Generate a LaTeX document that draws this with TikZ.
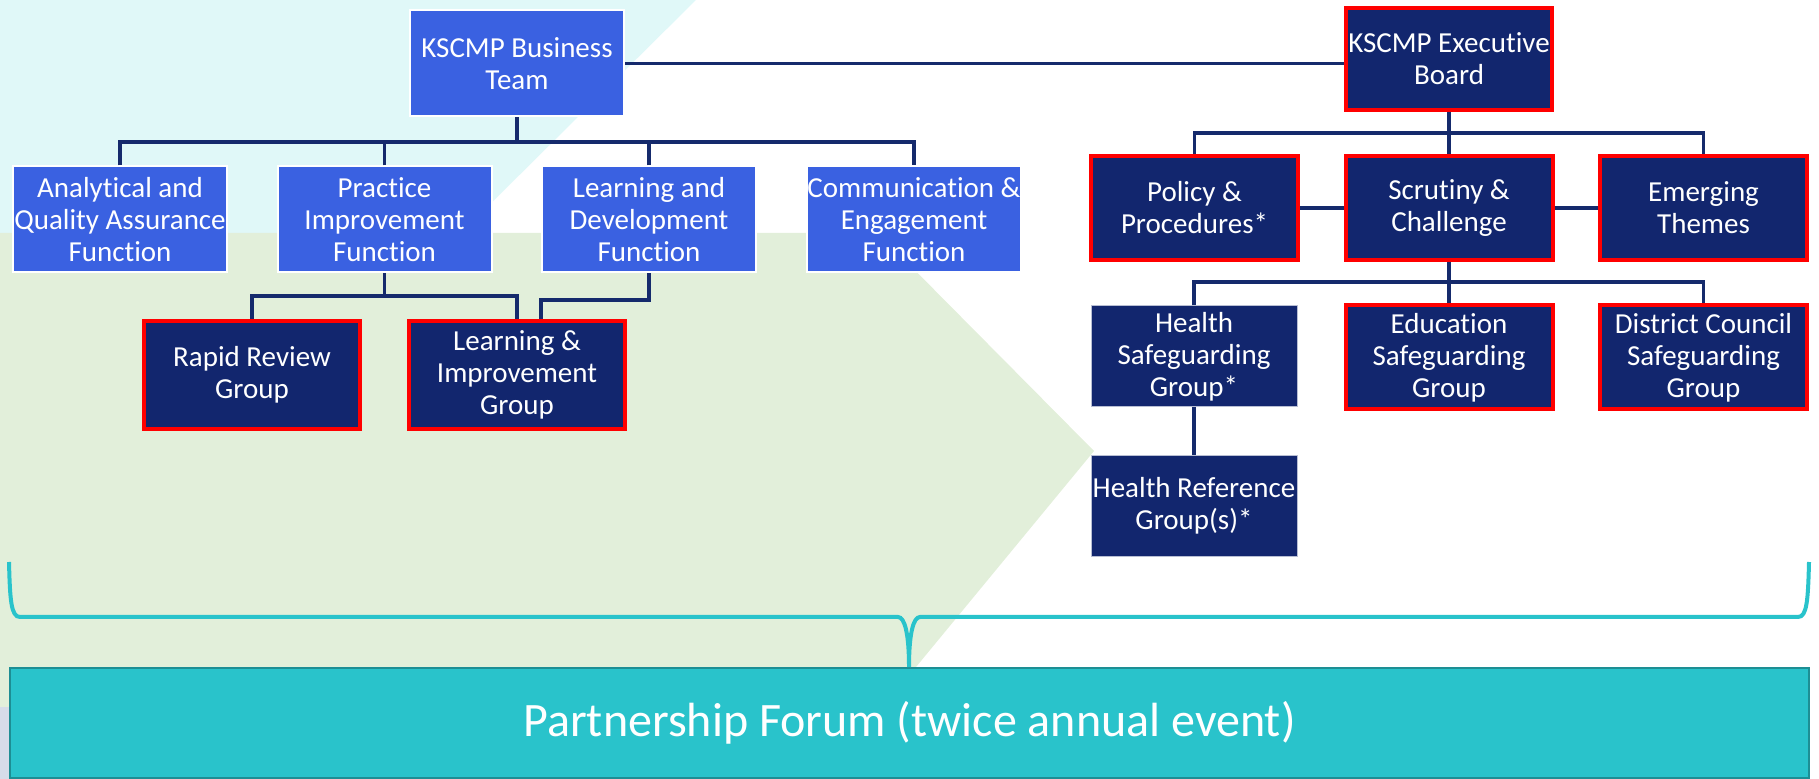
\documentclass[tikz,border=0pt]{standalone}
\usepackage{fontspec}
\setmainfont{Carlito}[Ligatures=NoCommon]
\definecolor{boxblue}{HTML}{3A61E1}
\definecolor{boxnavy}{HTML}{12266E}
\definecolor{linknavy}{HTML}{152A6C}
\definecolor{bgcyan}{HTML}{E0F8F8}
\definecolor{bggreen}{HTML}{E2EFDA}
\definecolor{bggrey}{HTML}{D6DCE9}
\definecolor{forumteal}{HTML}{29C3CB}
\definecolor{forumedge}{HTML}{1D8E94}

\begin{document}
\begin{tikzpicture}[x=0.5pt, y=-0.5pt,
    every node/.style={font=\fontsize{14.5}{16}\selectfont, align=center, text=white, inner sep=0pt},
    fnbox/.style={fill=boxblue, draw=white, line width=1pt, minimum width=107pt, minimum height=53pt},
    grpbox/.style={fill=boxnavy, draw=red, line width=2pt, minimum width=103.5pt, minimum height=52pt},
    subbox/.style={fill=boxnavy, draw=white!70!boxnavy, line width=0.5pt, minimum width=103pt, minimum height=50.5pt},
    link/.style={draw=linknavy, line width=1.6pt}]

    % background
    \useasboundingbox (0,0) rectangle (1819,779);
    \fill[bgcyan] (0,0) -- (696,0) -- (461,233) -- (0,233) -- cycle;
    \fill[bggreen] (0,233) -- (878,233) -- (1094,451) -- (916,667) -- (916,779) -- (0,779) -- cycle;
    \fill[bggrey] (0,707) rectangle (9,779);

    % business team side
    \node[fnbox] (biz) at (517,63.5) {KSCMP Business\\Team};
    \node[fnbox] (ana) at (120,219.5) {Analytical and\\Quality Assurance\\Function};
    \node[fnbox] (prac) at (384.5,219.5) {Practice\\Improvement\\Function};
    \node[fnbox] (lrn) at (649,219.5) {Learning and\\Development\\Function};
    \node[fnbox] (comm) at (914,219.5) {Communication \&\\Engagement\\Function};
    \node[grpbox, minimum width=108pt, minimum height=54pt] (rapid) at (252,375) {Rapid Review\\Group};
    \node[grpbox, minimum width=108pt, minimum height=54pt] (lni) at (517,375) {Learning \&\\Improvement\\Group};

    % executive board side
    \node[grpbox, minimum width=103pt, minimum height=51pt] (exec) at (1449,59) {KSCMP Executive\\Board};
    \node[grpbox] (pol) at (1194.5,208) {Policy \&\\Procedures*};
    \node[grpbox] (scr) at (1449,208) {Scrutiny \&\\Challenge};
    \node[grpbox] (emg) at (1703.5,208) {Emerging\\Themes};
    \node[subbox] (hsg) at (1194,356.5) {Health\\Safeguarding\\Group*};
    \node[grpbox] (edu) at (1449,357.5) {Education\\Safeguarding\\Group};
    \node[grpbox] (dist) at (1703.5,357.5) {District Council\\Safeguarding\\Group};
    \node[subbox] (href) at (1194,506) {Health Reference\\Group(s)*};

    \node[fill=forumteal, draw=forumedge, line width=1pt, minimum width=899.5pt, minimum height=55pt,
        font=\fontsize{24}{28}\selectfont] (forum) at (909.5,722.5) {Partnership Forum (twice annual event)};

    % connectors
    \draw[link] (biz.east) -- (biz.east -| exec.west);
    \coordinate (bizbar) at (517,142);
    \draw[link] (biz.south) -- (bizbar);
    \draw[link] (ana.north) |- (bizbar) -| (comm.north);
    \draw[link] (prac.north) -- (prac.north |- bizbar);
    \draw[link] (lrn.north) -- (lrn.north |- bizbar);
    \coordinate (pracbar) at (384.5,296);
    \draw[link] (prac.south) -- (pracbar);
    \draw[link] (rapid.north) |- (pracbar) -| (lni.north);
    \coordinate (lrnbend) at (541,300);
    \draw[link] (lrn.south) |- (lrnbend) -- (lrnbend |- lni.north);

    \coordinate (execbar) at (1449,133);
    \draw[link] (exec.south) -- (scr.north);
    \draw[link] (pol.north) |- (execbar) -| (emg.north);
    \draw[link] (pol.east) -- (scr.west);
    \draw[link] (scr.east) -- (emg.west);
    \coordinate (scrbar) at (1449,282);
    \draw[link] (scr.south) -- (edu.north);
    \draw[link] (hsg.north) |- (scrbar) -| (dist.north);
    \draw[link] (hsg.south) -- (href.north);

    % brace over the forum
    \draw[forumteal, line width=2pt] (9,562) .. controls (10,600) and (11,617) .. (20,617) -- (898,617)
        .. controls (905,617) and (909,635) .. (909,667)
        .. controls (909,635) and (913,617) .. (920,617) -- (1798,617)
        .. controls (1807,617) and (1808,600) .. (1809,562);
\end{tikzpicture}
\end{document}
